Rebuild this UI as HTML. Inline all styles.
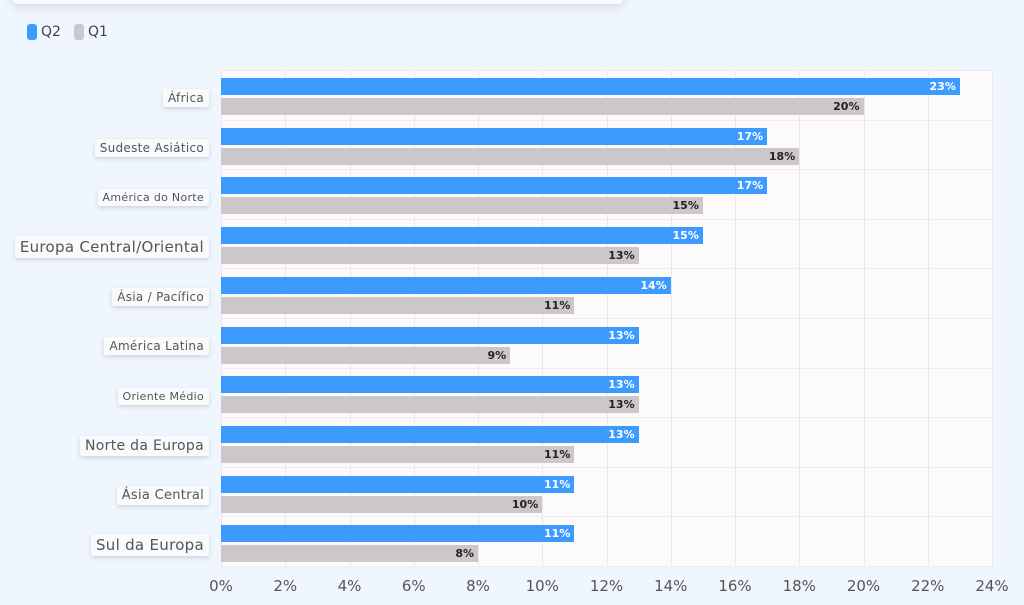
<!DOCTYPE html>
<html><head><style>
body{margin:0;width:1024px;height:605px;background:#eff6fd;font-family:"DejaVu Sans","Liberation Sans",sans-serif;overflow:hidden;position:relative}
.title{position:absolute;left:12px;top:-30px;width:612px;height:34px;background:#f7f9fc;box-shadow:0 3px 10px rgba(0,0,0,0.12);border-radius:6px}
.leg{position:absolute;top:24px;font-size:14px;color:#444;display:flex;align-items:center}
.sw{width:10px;height:16px;border-radius:3px;margin-right:4px}
.plot{position:absolute;left:221px;top:70px;width:771px;height:496px;background:#fcfafb}
.vg{position:absolute;top:0;height:496px;width:1px;background:#ebe7ea}
.hg{position:absolute;left:0;width:771px;height:1px;background:#efebee}
.bar{position:absolute;left:0;height:17px;font-size:11px;font-weight:bold;text-align:right;line-height:17px;box-sizing:border-box;padding-right:4px}
.b2{background:#3d9bff;color:#fff}
.b1{background:#ccc8c9;color:#222}
.lab{position:absolute;right:815px;background:#f9fafc;box-shadow:0 2px 5px rgba(0,0,0,0.14);color:#555;padding:2px 5px;white-space:nowrap;border-radius:2px;letter-spacing:0.3px}
.tick{position:absolute;top:577px;font-size:15px;color:#555;transform:translateX(-50%)}
</style></head><body>
<div class="title"></div>
<div class="leg" style="left:27px"><div class="sw" style="background:#3d9bff"></div>Q2</div>
<div class="leg" style="left:74px"><div class="sw" style="background:#ccc8c9"></div>Q1</div>
<div class="plot" id="p"></div>
<div id="l"></div>
<script>
var d=[["África",23,20,12],["Sudeste Asiático",17,18,12],["América do Norte",17,15,11],["Europa Central/Oriental",15,13,15],["Ásia / Pacífico",14,11,12],["América Latina",13,9,12],["Oriente Médio",13,13,11],["Norte da Europa",13,11,14],["Ásia Central",11,10,13],["Sul da Europa",11,8,15]];
var s=771/24,p=document.getElementById('p'),h='',L='';
for(var i=0;i<=12;i++){h+='<div class="vg" style="left:'+Math.round(i*2*s)+'px"></div>';L+='<div class="tick" style="left:'+(221+i*2*s)+'px">'+(i*2)+'%</div>';}
for(var i=0;i<=10;i++)h+='<div class="hg" style="top:'+Math.round(i*49.6)+'px"></div>';
d.forEach(function(r,i){var t=8+i*49.7;
h+='<div class="bar b2" style="top:'+t+'px;width:'+r[1]*s+'px">'+r[1]+'%</div>';
h+='<div class="bar b1" style="top:'+(t+20)+'px;width:'+r[2]*s+'px">'+r[2]+'%</div>';
var c=70+t+20;L+='<div class="lab" style="top:'+(c-r[3]*0.6-2)+'px;font-size:'+r[3]+'px">'+r[0]+'</div>';});
p.innerHTML=h;document.getElementById('l').innerHTML=L;
</script>
</body></html>
